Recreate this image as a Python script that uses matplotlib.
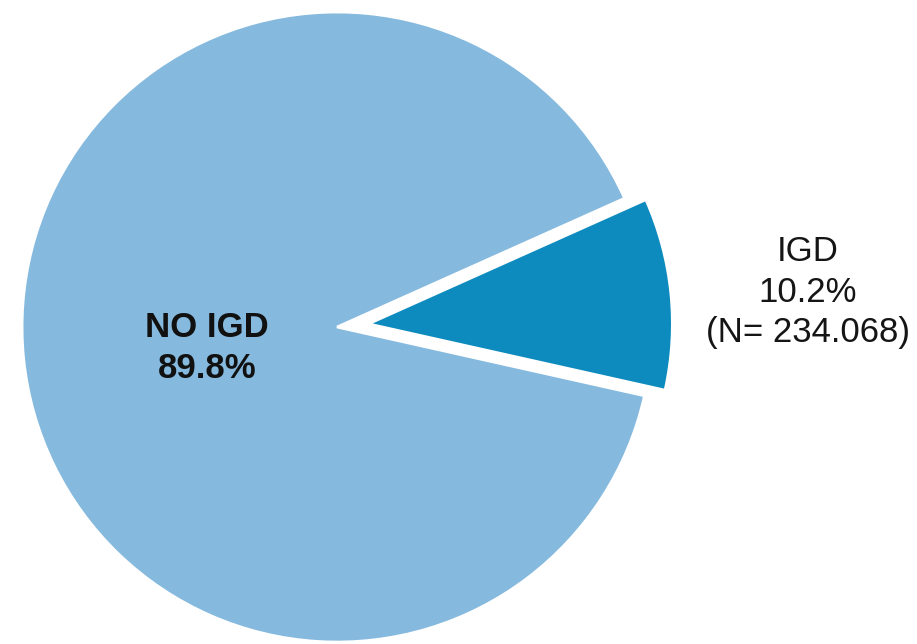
import matplotlib.pyplot as plt

labels = ["IGD\n10.2%\n(N= 234.068)", "NO IGD\n89.8%"]
shares = [10.2, 89.8]
colors = ["#0E8BBE", "#85B9DE"]
explode = [0.10, 0]

plt.rcParams['font.family'] = ['Liberation Sans', 'DejaVu Sans']

fig = plt.figure(figsize=(9.17, 6.44), dpi=100)
ax = fig.add_axes([0, 0, 1, 1])

wedges, _ = ax.pie(shares, colors=colors, explode=explode, startangle=-12.6,
                   counterclock=True, radius=1.0,
                   wedgeprops=dict(edgecolor="white", linewidth=2))
# the pulled-out slice is a touch smaller in the original
wedges[0].set_radius(0.965)

# label spots (data units, radius = 1)
ax.text(1.495, 0.111, labels[0], ha="center", va="center", fontsize=25,
        color="#151515", linespacing=1.3)
ax.text(-0.413, -0.066, labels[1], ha="center", va="center", fontsize=25,
        fontweight="bold", color="#111111", linespacing=1.3)

ax.set_xlim(-1.070, 1.841)
ax.set_ylim(-1.006, 1.038)
ax.set_aspect("equal")
ax.axis("off")

fig.savefig("out.png", dpi=100)
